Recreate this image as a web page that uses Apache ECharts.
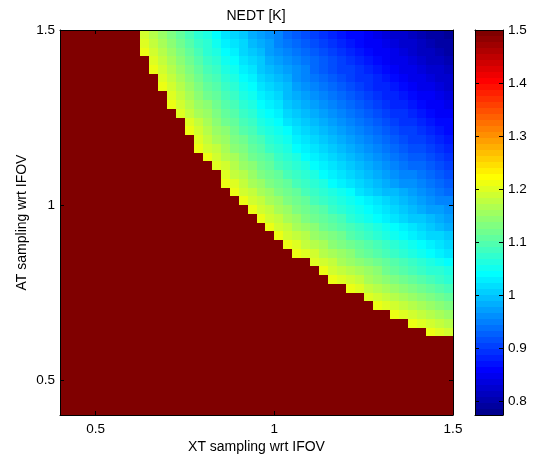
<!DOCTYPE html>
<html><head><meta charset="utf-8">
<script src="https://cdn.jsdelivr.net/npm/echarts@6/dist/echarts.min.js"></script>
<style>html,body{margin:0;padding:0;background:#fff}#c{width:535px;height:456px}</style>
</head><body><div id="c"></div><script>
// XT sampling cell edges (x axis) and AT sampling cell edges (y axis)
const xtEdges = [0.4,0.425,0.45,0.475,0.5,0.525,0.55,0.575,0.6,0.625,0.65,0.675,0.7,0.725,0.75,0.775,0.8,0.825,0.85,0.875,0.9,0.925,0.95,0.975,1,1.025,1.05,1.075,1.1,1.125,1.15,1.175,1.2,1.225,1.25,1.275,1.3,1.325,1.35,1.375,1.4,1.425,1.45,1.475,1.5];
const atEdges = [0.4,0.425,0.45,0.475,0.5,0.525,0.55,0.575,0.6,0.625,0.65,0.675,0.7,0.725,0.75,0.775,0.8,0.825,0.85,0.875,0.9,0.925,0.95,0.975,1,1.025,1.05,1.075,1.1,1.125,1.15,1.175,1.2,1.225,1.25,1.275,1.3,1.325,1.35,1.375,1.4,1.425,1.45,1.475,1.5];
const xTicks = [0.5, 1, 1.5];
const yTicks = [0.5, 1, 1.5];
const cbarTicks = [0.8, 0.9, 1, 1.1, 1.2, 1.3, 1.4, 1.5];
const cbarRange = [0.774, 1.5];
// NEDT [K]; rows from top (AT = 1.5) to bottom (AT = 0.4), columns XT 0.4 -> 1.5
const nedt = [
[1.5,1.5,1.5,1.5,1.5, 1.5,1.5,1.5,1.5, 1.19,1.17,1.15,1.13,1.11,1.09,1.07,1.06,1.04,1.02,1.01,1.00,0.98,0.97,0.96,0.95,0.93,0.92,0.91,0.90,0.89,0.88,0.87,0.86,0.86,0.85,0.84,0.83,0.82,0.82,0.81,0.80,0.79,0.79,0.78],
[1.5,1.5,1.5,1.5,1.5, 1.5,1.5,1.5,1.5, 1.20,1.18,1.16,1.14,1.12,1.10,1.08,1.07,1.05,1.03,1.02,1.01,0.99,0.98,0.97,0.95,0.94,0.93,0.92,0.91,0.90,0.89,0.88,0.87,0.86,0.85,0.85,0.84,0.83,0.82,0.82,0.81,0.80,0.79,0.79],
[1.5,1.5,1.5,1.5,1.5, 1.5,1.5,1.5,1.5, 1.21,1.19,1.17,1.15,1.13,1.11,1.09,1.07,1.06,1.04,1.03,1.01,1.00,0.99,0.97,0.96,0.95,0.94,0.93,0.92,0.91,0.90,0.89,0.88,0.87,0.86,0.85,0.85,0.84,0.83,0.82,0.81,0.81,0.80,0.79],
[1.5,1.5,1.5,1.5,1.5, 1.5,1.5,1.5,1.5,1.5, 1.20,1.18,1.16,1.14,1.12,1.10,1.08,1.07,1.05,1.04,1.02,1.01,1.00,0.98,0.97,0.96,0.95,0.94,0.93,0.92,0.91,0.90,0.89,0.88,0.87,0.86,0.85,0.84,0.84,0.83,0.82,0.81,0.81,0.80],
[1.5,1.5,1.5,1.5,1.5, 1.5,1.5,1.5,1.5,1.5, 1.21,1.19,1.17,1.15,1.13,1.11,1.09,1.08,1.06,1.05,1.03,1.02,1.00,0.99,0.98,0.97,0.96,0.95,0.93,0.92,0.91,0.90,0.90,0.89,0.88,0.87,0.86,0.85,0.84,0.84,0.83,0.82,0.82,0.81],
[1.5,1.5,1.5,1.5,1.5, 1.5,1.5,1.5,1.5,1.5, 1.5, 1.20,1.18,1.16,1.14,1.12,1.10,1.09,1.07,1.06,1.04,1.03,1.01,1.00,0.99,0.98,0.96,0.95,0.94,0.93,0.92,0.91,0.90,0.89,0.89,0.88,0.87,0.86,0.85,0.84,0.84,0.83,0.82,0.82],
[1.5,1.5,1.5,1.5,1.5, 1.5,1.5,1.5,1.5,1.5, 1.5, 1.21,1.19,1.17,1.15,1.13,1.11,1.10,1.08,1.07,1.05,1.04,1.02,1.01,1.00,0.99,0.97,0.96,0.95,0.94,0.93,0.92,0.91,0.90,0.89,0.88,0.88,0.87,0.86,0.85,0.84,0.84,0.83,0.82],
[1.5,1.5,1.5,1.5,1.5, 1.5,1.5,1.5,1.5,1.5, 1.5,1.5, 1.20,1.18,1.16,1.14,1.12,1.11,1.09,1.08,1.06,1.05,1.03,1.02,1.01,0.99,0.98,0.97,0.96,0.95,0.94,0.93,0.92,0.91,0.90,0.89,0.88,0.88,0.87,0.86,0.85,0.85,0.84,0.83],
[1.5,1.5,1.5,1.5,1.5, 1.5,1.5,1.5,1.5,1.5, 1.5,1.5, 1.21,1.19,1.17,1.15,1.14,1.12,1.10,1.09,1.07,1.06,1.04,1.03,1.02,1.00,0.99,0.98,0.97,0.96,0.95,0.94,0.93,0.92,0.91,0.90,0.89,0.88,0.88,0.87,0.86,0.85,0.85,0.84],
[1.5,1.5,1.5,1.5,1.5, 1.5,1.5,1.5,1.5,1.5, 1.5,1.5,1.5, 1.20,1.18,1.16,1.15,1.13,1.11,1.10,1.08,1.07,1.05,1.04,1.03,1.01,1.00,0.99,0.98,0.97,0.96,0.95,0.94,0.93,0.92,0.91,0.90,0.89,0.89,0.88,0.87,0.86,0.85,0.85],
[1.5,1.5,1.5,1.5,1.5, 1.5,1.5,1.5,1.5,1.5, 1.5,1.5,1.5,1.5, 1.20,1.18,1.16,1.14,1.12,1.11,1.09,1.08,1.06,1.05,1.04,1.02,1.01,1.00,0.99,0.98,0.97,0.96,0.95,0.94,0.93,0.92,0.91,0.90,0.89,0.89,0.88,0.87,0.86,0.86],
[1.5,1.5,1.5,1.5,1.5, 1.5,1.5,1.5,1.5,1.5, 1.5,1.5,1.5,1.5, 1.21,1.19,1.17,1.15,1.14,1.12,1.10,1.09,1.07,1.06,1.05,1.04,1.02,1.01,1.00,0.99,0.98,0.97,0.96,0.95,0.94,0.93,0.92,0.91,0.90,0.90,0.89,0.88,0.87,0.86],
[1.5,1.5,1.5,1.5,1.5, 1.5,1.5,1.5,1.5,1.5, 1.5,1.5,1.5,1.5,1.5, 1.20,1.18,1.16,1.15,1.13,1.12,1.10,1.09,1.07,1.06,1.05,1.03,1.02,1.01,1.00,0.99,0.98,0.97,0.96,0.95,0.94,0.93,0.92,0.91,0.90,0.90,0.89,0.88,0.87],
[1.5,1.5,1.5,1.5,1.5, 1.5,1.5,1.5,1.5,1.5, 1.5,1.5,1.5,1.5,1.5, 1.21,1.19,1.18,1.16,1.14,1.13,1.11,1.10,1.08,1.07,1.06,1.04,1.03,1.02,1.01,1.00,0.99,0.98,0.97,0.96,0.95,0.94,0.93,0.92,0.91,0.91,0.90,0.89,0.88],
[1.5,1.5,1.5,1.5,1.5, 1.5,1.5,1.5,1.5,1.5, 1.5,1.5,1.5,1.5,1.5, 1.5, 1.21,1.19,1.17,1.16,1.14,1.12,1.11,1.10,1.08,1.07,1.06,1.04,1.03,1.02,1.01,1.00,0.99,0.98,0.97,0.96,0.95,0.94,0.93,0.92,0.92,0.91,0.90,0.89],
[1.5,1.5,1.5,1.5,1.5, 1.5,1.5,1.5,1.5,1.5, 1.5,1.5,1.5,1.5,1.5, 1.5,1.5, 1.20,1.19,1.17,1.15,1.14,1.12,1.11,1.09,1.08,1.07,1.06,1.04,1.03,1.02,1.01,1.00,0.99,0.98,0.97,0.96,0.95,0.94,0.93,0.93,0.92,0.91,0.90],
[1.5,1.5,1.5,1.5,1.5, 1.5,1.5,1.5,1.5,1.5, 1.5,1.5,1.5,1.5,1.5, 1.5,1.5,1.5, 1.20,1.18,1.17,1.15,1.13,1.12,1.11,1.09,1.08,1.07,1.06,1.04,1.03,1.02,1.01,1.00,0.99,0.98,0.97,0.96,0.95,0.95,0.94,0.93,0.92,0.91],
[1.5,1.5,1.5,1.5,1.5, 1.5,1.5,1.5,1.5,1.5, 1.5,1.5,1.5,1.5,1.5, 1.5,1.5,1.5, 1.21,1.20,1.18,1.16,1.15,1.13,1.12,1.11,1.09,1.08,1.07,1.06,1.04,1.03,1.02,1.01,1.00,0.99,0.98,0.97,0.96,0.96,0.95,0.94,0.93,0.92],
[1.5,1.5,1.5,1.5,1.5, 1.5,1.5,1.5,1.5,1.5, 1.5,1.5,1.5,1.5,1.5, 1.5,1.5,1.5,1.5, 1.21,1.19,1.18,1.16,1.15,1.13,1.12,1.11,1.09,1.08,1.07,1.06,1.05,1.04,1.02,1.01,1.00,0.99,0.99,0.98,0.97,0.96,0.95,0.94,0.93],
[1.5,1.5,1.5,1.5,1.5, 1.5,1.5,1.5,1.5,1.5, 1.5,1.5,1.5,1.5,1.5, 1.5,1.5,1.5,1.5,1.5, 1.21,1.19,1.18,1.16,1.15,1.13,1.12,1.11,1.09,1.08,1.07,1.06,1.05,1.04,1.03,1.02,1.01,1.00,0.99,0.98,0.97,0.96,0.95,0.95],
[1.5,1.5,1.5,1.5,1.5, 1.5,1.5,1.5,1.5,1.5, 1.5,1.5,1.5,1.5,1.5, 1.5,1.5,1.5,1.5,1.5, 1.5, 1.21,1.19,1.18,1.16,1.15,1.13,1.12,1.11,1.10,1.08,1.07,1.06,1.05,1.04,1.03,1.02,1.01,1.00,0.99,0.98,0.97,0.97,0.96],
[1.5,1.5,1.5,1.5,1.5, 1.5,1.5,1.5,1.5,1.5, 1.5,1.5,1.5,1.5,1.5, 1.5,1.5,1.5,1.5,1.5, 1.5,1.5, 1.21,1.19,1.18,1.16,1.15,1.13,1.12,1.11,1.10,1.09,1.07,1.06,1.05,1.04,1.03,1.02,1.01,1.00,1.00,0.99,0.98,0.97],
[1.5,1.5,1.5,1.5,1.5, 1.5,1.5,1.5,1.5,1.5, 1.5,1.5,1.5,1.5,1.5, 1.5,1.5,1.5,1.5,1.5, 1.5,1.5,1.5, 1.21,1.19,1.18,1.16,1.15,1.14,1.12,1.11,1.10,1.09,1.08,1.07,1.06,1.05,1.04,1.03,1.02,1.01,1.00,0.99,0.98],
[1.5,1.5,1.5,1.5,1.5, 1.5,1.5,1.5,1.5,1.5, 1.5,1.5,1.5,1.5,1.5, 1.5,1.5,1.5,1.5,1.5, 1.5,1.5,1.5,1.5, 1.21,1.19,1.18,1.17,1.15,1.14,1.13,1.12,1.10,1.09,1.08,1.07,1.06,1.05,1.04,1.03,1.02,1.01,1.01,1.00],
[1.5,1.5,1.5,1.5,1.5, 1.5,1.5,1.5,1.5,1.5, 1.5,1.5,1.5,1.5,1.5, 1.5,1.5,1.5,1.5,1.5, 1.5,1.5,1.5,1.5,1.5, 1.21,1.20,1.18,1.17,1.16,1.14,1.13,1.12,1.11,1.10,1.09,1.08,1.07,1.06,1.05,1.04,1.03,1.02,1.01],
[1.5,1.5,1.5,1.5,1.5, 1.5,1.5,1.5,1.5,1.5, 1.5,1.5,1.5,1.5,1.5, 1.5,1.5,1.5,1.5,1.5, 1.5,1.5,1.5,1.5,1.5, 1.5, 1.21,1.20,1.19,1.17,1.16,1.15,1.14,1.12,1.11,1.10,1.09,1.08,1.07,1.06,1.05,1.04,1.03,1.02],
[1.5,1.5,1.5,1.5,1.5, 1.5,1.5,1.5,1.5,1.5, 1.5,1.5,1.5,1.5,1.5, 1.5,1.5,1.5,1.5,1.5, 1.5,1.5,1.5,1.5,1.5, 1.5,1.5,1.5, 1.20,1.19,1.18,1.16,1.15,1.14,1.13,1.12,1.11,1.10,1.09,1.08,1.07,1.06,1.05,1.04],
[1.5,1.5,1.5,1.5,1.5, 1.5,1.5,1.5,1.5,1.5, 1.5,1.5,1.5,1.5,1.5, 1.5,1.5,1.5,1.5,1.5, 1.5,1.5,1.5,1.5,1.5, 1.5,1.5,1.5,1.5, 1.21,1.19,1.18,1.17,1.16,1.15,1.14,1.12,1.11,1.10,1.09,1.08,1.07,1.07,1.06],
[1.5,1.5,1.5,1.5,1.5, 1.5,1.5,1.5,1.5,1.5, 1.5,1.5,1.5,1.5,1.5, 1.5,1.5,1.5,1.5,1.5, 1.5,1.5,1.5,1.5,1.5, 1.5,1.5,1.5,1.5,1.5, 1.21,1.20,1.19,1.18,1.16,1.15,1.14,1.13,1.12,1.11,1.10,1.09,1.08,1.07],
[1.5,1.5,1.5,1.5,1.5, 1.5,1.5,1.5,1.5,1.5, 1.5,1.5,1.5,1.5,1.5, 1.5,1.5,1.5,1.5,1.5, 1.5,1.5,1.5,1.5,1.5, 1.5,1.5,1.5,1.5,1.5, 1.5,1.5, 1.21,1.20,1.18,1.17,1.16,1.15,1.14,1.13,1.12,1.11,1.10,1.09],
[1.5,1.5,1.5,1.5,1.5, 1.5,1.5,1.5,1.5,1.5, 1.5,1.5,1.5,1.5,1.5, 1.5,1.5,1.5,1.5,1.5, 1.5,1.5,1.5,1.5,1.5, 1.5,1.5,1.5,1.5,1.5, 1.5,1.5,1.5,1.5, 1.20,1.19,1.18,1.17,1.16,1.15,1.14,1.13,1.12,1.11],
[1.5,1.5,1.5,1.5,1.5, 1.5,1.5,1.5,1.5,1.5, 1.5,1.5,1.5,1.5,1.5, 1.5,1.5,1.5,1.5,1.5, 1.5,1.5,1.5,1.5,1.5, 1.5,1.5,1.5,1.5,1.5, 1.5,1.5,1.5,1.5,1.5, 1.21,1.20,1.19,1.18,1.17,1.16,1.15,1.14,1.13],
[1.5,1.5,1.5,1.5,1.5, 1.5,1.5,1.5,1.5,1.5, 1.5,1.5,1.5,1.5,1.5, 1.5,1.5,1.5,1.5,1.5, 1.5,1.5,1.5,1.5,1.5, 1.5,1.5,1.5,1.5,1.5, 1.5,1.5,1.5,1.5,1.5, 1.5,1.5, 1.21,1.20,1.19,1.18,1.17,1.16,1.15],
[1.5,1.5,1.5,1.5,1.5, 1.5,1.5,1.5,1.5,1.5, 1.5,1.5,1.5,1.5,1.5, 1.5,1.5,1.5,1.5,1.5, 1.5,1.5,1.5,1.5,1.5, 1.5,1.5,1.5,1.5,1.5, 1.5,1.5,1.5,1.5,1.5, 1.5,1.5,1.5,1.5, 1.21,1.20,1.19,1.18,1.17],
[1.5,1.5,1.5,1.5,1.5, 1.5,1.5,1.5,1.5,1.5, 1.5,1.5,1.5,1.5,1.5, 1.5,1.5,1.5,1.5,1.5, 1.5,1.5,1.5,1.5,1.5, 1.5,1.5,1.5,1.5,1.5, 1.5,1.5,1.5,1.5,1.5, 1.5,1.5,1.5,1.5,1.5, 1.5, 1.21,1.20,1.19],
[1.5,1.5,1.5,1.5,1.5, 1.5,1.5,1.5,1.5,1.5, 1.5,1.5,1.5,1.5,1.5, 1.5,1.5,1.5,1.5,1.5, 1.5,1.5,1.5,1.5,1.5, 1.5,1.5,1.5,1.5,1.5, 1.5,1.5,1.5,1.5,1.5, 1.5,1.5,1.5,1.5,1.5, 1.5,1.5,1.5,1.5],
[1.5,1.5,1.5,1.5,1.5, 1.5,1.5,1.5,1.5,1.5, 1.5,1.5,1.5,1.5,1.5, 1.5,1.5,1.5,1.5,1.5, 1.5,1.5,1.5,1.5,1.5, 1.5,1.5,1.5,1.5,1.5, 1.5,1.5,1.5,1.5,1.5, 1.5,1.5,1.5,1.5,1.5, 1.5,1.5,1.5,1.5],
[1.5,1.5,1.5,1.5,1.5, 1.5,1.5,1.5,1.5,1.5, 1.5,1.5,1.5,1.5,1.5, 1.5,1.5,1.5,1.5,1.5, 1.5,1.5,1.5,1.5,1.5, 1.5,1.5,1.5,1.5,1.5, 1.5,1.5,1.5,1.5,1.5, 1.5,1.5,1.5,1.5,1.5, 1.5,1.5,1.5,1.5],
[1.5,1.5,1.5,1.5,1.5, 1.5,1.5,1.5,1.5,1.5, 1.5,1.5,1.5,1.5,1.5, 1.5,1.5,1.5,1.5,1.5, 1.5,1.5,1.5,1.5,1.5, 1.5,1.5,1.5,1.5,1.5, 1.5,1.5,1.5,1.5,1.5, 1.5,1.5,1.5,1.5,1.5, 1.5,1.5,1.5,1.5],
[1.5,1.5,1.5,1.5,1.5, 1.5,1.5,1.5,1.5,1.5, 1.5,1.5,1.5,1.5,1.5, 1.5,1.5,1.5,1.5,1.5, 1.5,1.5,1.5,1.5,1.5, 1.5,1.5,1.5,1.5,1.5, 1.5,1.5,1.5,1.5,1.5, 1.5,1.5,1.5,1.5,1.5, 1.5,1.5,1.5,1.5],
[1.5,1.5,1.5,1.5,1.5, 1.5,1.5,1.5,1.5,1.5, 1.5,1.5,1.5,1.5,1.5, 1.5,1.5,1.5,1.5,1.5, 1.5,1.5,1.5,1.5,1.5, 1.5,1.5,1.5,1.5,1.5, 1.5,1.5,1.5,1.5,1.5, 1.5,1.5,1.5,1.5,1.5, 1.5,1.5,1.5,1.5],
[1.5,1.5,1.5,1.5,1.5, 1.5,1.5,1.5,1.5,1.5, 1.5,1.5,1.5,1.5,1.5, 1.5,1.5,1.5,1.5,1.5, 1.5,1.5,1.5,1.5,1.5, 1.5,1.5,1.5,1.5,1.5, 1.5,1.5,1.5,1.5,1.5, 1.5,1.5,1.5,1.5,1.5, 1.5,1.5,1.5,1.5],
[1.5,1.5,1.5,1.5,1.5, 1.5,1.5,1.5,1.5,1.5, 1.5,1.5,1.5,1.5,1.5, 1.5,1.5,1.5,1.5,1.5, 1.5,1.5,1.5,1.5,1.5, 1.5,1.5,1.5,1.5,1.5, 1.5,1.5,1.5,1.5,1.5, 1.5,1.5,1.5,1.5,1.5, 1.5,1.5,1.5,1.5],
[1.5,1.5,1.5,1.5,1.5, 1.5,1.5,1.5,1.5,1.5, 1.5,1.5,1.5,1.5,1.5, 1.5,1.5,1.5,1.5,1.5, 1.5,1.5,1.5,1.5,1.5, 1.5,1.5,1.5,1.5,1.5, 1.5,1.5,1.5,1.5,1.5, 1.5,1.5,1.5,1.5,1.5, 1.5,1.5,1.5,1.5]
];

// MATLAB "jet" colormap, 64 levels (style only)
function jetColors(m) {
  const n = Math.ceil(m / 4);
  const u = [];
  for (let t = 1; t <= n; t++) u.push(t / n);
  for (let t = 1; t < n; t++) u.push(1);
  for (let t = n; t >= 1; t--) u.push(t / n);
  const g0 = Math.ceil(n / 2) - (m % 4 === 1 ? 1 : 0);
  const f = k => (k >= 1 && k <= u.length) ? u[k - 1] : 0;
  const out = [];
  for (let i = 1; i <= m; i++) {
    const r = f(i - g0 - n), g = f(i - g0), b = f(i - g0 + n);
    out.push('rgb(' + Math.round(r * 255) + ',' + Math.round(g * 255) + ',' + Math.round(b * 255) + ')');
  }
  return out;
}
const JET = jetColors(64);

if (nedt.length !== atEdges.length - 1) throw new Error('row count ' + nedt.length);
nedt.forEach((row, r) => { if (row.length !== xtEdges.length - 1) throw new Error('row ' + r + ' has length ' + row.length); });

const heatData = [];
nedt.forEach((row, r) => {
  const j = atEdges.length - 2 - r;
  row.forEach((v, i) => {
    heatData.push([xtEdges[i], atEdges[j], xtEdges[i + 1], atEdges[j + 1], v]);
  });
});

const FONT = '"Liberation Sans", Arial, Helvetica, sans-serif';
const black = '#000';
function ax(o) {
  return Object.assign({
    type: 'value', z: 10, splitLine: { show: false }, nameMoveOverlap: false,
    axisLine: { show: true, onZero: false, lineStyle: { color: black, width: 1 } },
    axisTick: { show: false },
    axisLabel: { show: false }
  }, o);
}
const tickStyle = (vals) => ({ show: true, inside: true, length: 4, customValues: vals, lineStyle: { color: black, width: 1 } });
const labelStyle = (vals, margin) => ({ show: true, customValues: vals, margin: margin, fontSize: 13.5, color: black, fontFamily: FONT, showMinLabel: true, showMaxLabel: true });

const stops = [];
for (let k = 0; k < 64; k++) {
  const c = JET[63 - k];
  stops.push({ offset: k / 64, color: c });
  stops.push({ offset: (k + 1) / 64, color: c });
}

const chart = echarts.init(document.getElementById('c'), null, { renderer: 'canvas' });
chart.setOption({
  animation: false,
  backgroundColor: '#fff',
  textStyle: { fontFamily: FONT },
  title: {
    text: 'NEDT [K]', left: 256, top: 9, textAlign: 'center', padding: 0,
    textStyle: { fontSize: 14, fontWeight: 'normal', color: black, fontFamily: FONT }
  },
  grid: [
    { left: 60, top: 30, width: 393, height: 385, outerBoundsMode: 'none', containLabel: false },
    { left: 475, top: 30, width: 28, height: 385, outerBoundsMode: 'none', containLabel: false }
  ],
  xAxis: [
    ax({ gridIndex: 0, min: 0.4, max: 1.5, position: 'bottom',
      name: 'XT sampling wrt IFOV', nameLocation: 'middle', nameGap: 25,
      nameTextStyle: { fontSize: 14, color: black, fontFamily: FONT },
      axisTick: tickStyle(xTicks), axisLabel: labelStyle(xTicks, 7) }),
    ax({ gridIndex: 0, min: 0.4, max: 1.5, position: 'top', axisTick: tickStyle(xTicks) }),
    ax({ gridIndex: 1, min: 0, max: 1, position: 'bottom' }),
    ax({ gridIndex: 1, min: 0, max: 1, position: 'top' })
  ],
  yAxis: [
    ax({ gridIndex: 0, min: 0.4, max: 1.5, position: 'left',
      name: 'AT sampling wrt IFOV', nameLocation: 'middle', nameGap: 31,
      nameTextStyle: { fontSize: 14, color: black, fontFamily: FONT },
      axisTick: tickStyle(yTicks), axisLabel: labelStyle(yTicks, 5) }),
    ax({ gridIndex: 0, min: 0.4, max: 1.5, position: 'right', axisTick: tickStyle(yTicks) }),
    ax({ gridIndex: 1, min: cbarRange[0], max: cbarRange[1], position: 'right',
      axisTick: tickStyle(cbarTicks), axisLabel: labelStyle(cbarTicks, 5) }),
    ax({ gridIndex: 1, min: cbarRange[0], max: cbarRange[1], position: 'left', axisTick: tickStyle(cbarTicks) })
  ],
  visualMap: {
    type: 'continuous', show: false, seriesIndex: 0, dimension: 4,
    min: cbarRange[0], max: cbarRange[1], inRange: { color: JET }
  },
  series: [
    {
      type: 'custom', xAxisIndex: 0, yAxisIndex: 0, silent: true,
      encode: { x: [0, 2], y: [1, 3] },
      data: heatData,
      renderItem: function (params, api) {
        const a = api.coord([api.value(0), api.value(3)]);
        const b = api.coord([api.value(2), api.value(1)]);
        const x0 = Math.round(a[0]), y0 = Math.round(a[1]);
        const x1 = Math.round(b[0]), y1 = Math.round(b[1]);
        const c = api.visual('color');
        return { type: 'rect', shape: { x: x0, y: y0, width: x1 - x0, height: y1 - y0 },
          style: { fill: c } };
      }
    },
    {
      type: 'custom', xAxisIndex: 2, yAxisIndex: 2, silent: true,
      encode: { x: [0, 2], y: [1, 3] },
      data: [[0, cbarRange[0], 1, cbarRange[1]]],
      renderItem: function (params, api) {
        const a = api.coord([api.value(0), api.value(3)]);
        const b = api.coord([api.value(2), api.value(1)]);
        return { type: 'rect', shape: { x: a[0], y: a[1], width: b[0] - a[0], height: b[1] - a[1] },
          style: { fill: new echarts.graphic.LinearGradient(0, 0, 0, 1, stops) } };
      }
    }
  ]
});
</script></body></html>
